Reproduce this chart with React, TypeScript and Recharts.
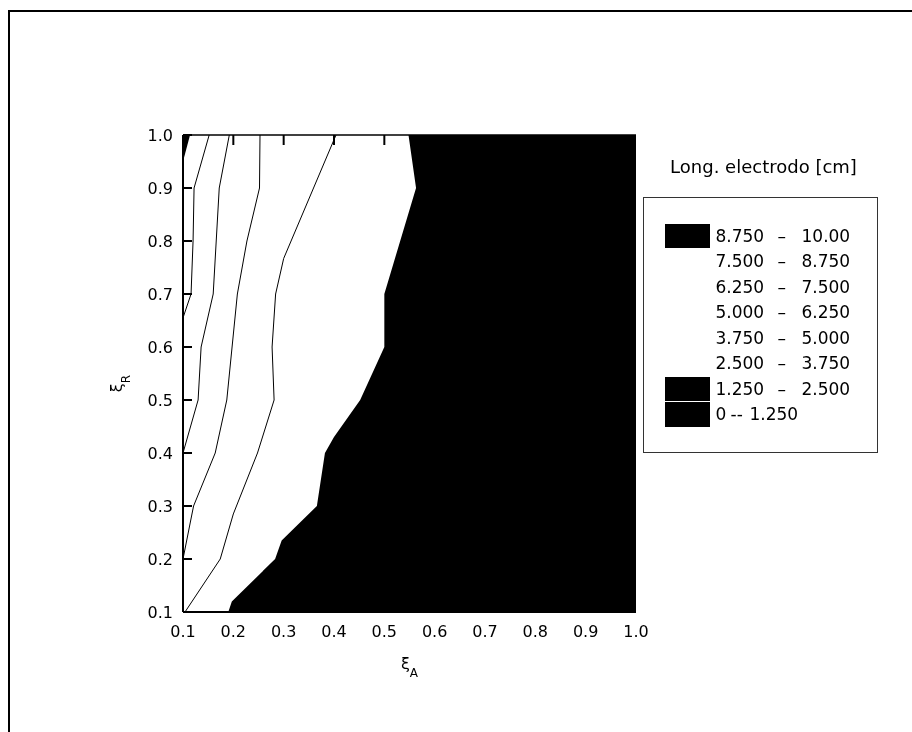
import React from 'react';
import { ComposedChart, Area, Line, XAxis, YAxis, Legend } from 'recharts';

// Axis ticks
const xTicks = [0.1, 0.2, 0.3, 0.4, 0.5, 0.6, 0.7, 0.8, 0.9, 1.0];
const yTicks = [0.1, 0.2, 0.3, 0.4, 0.5, 0.6, 0.7, 0.8, 0.9, 1.0];

// Axis titles
const xTitle = 'ξ';
const xTitleSub = 'A';
const yTitle = 'ξ';
const yTitleSub = 'R';

// Filled level regions (x = ξA, y = ξR)
// lowest levels (0 – 2.5) : small wedge at the top-left corner, closed against ξR = 1.0
const regionLow = [
  { x: 0.1, y: 0.95 },
  { x: 0.114, y: 1.0 },
];
// highest level (8.75 – 10) : right part, closed against ξR = 0.1
const regionHigh = [
  { x: 0.19, y: 0.1 },
  { x: 0.197, y: 0.12 },
  { x: 0.283, y: 0.2 },
  { x: 0.296, y: 0.235 },
  { x: 0.366, y: 0.3 },
  { x: 0.382, y: 0.4 },
  { x: 0.4, y: 0.43 },
  { x: 0.452, y: 0.5 },
  { x: 0.5, y: 0.6 },
  { x: 0.5, y: 0.7 },
  { x: 0.563, y: 0.9 },
  { x: 0.548, y: 1.0 },
  { x: 1.0, y: 1.0 },
  { x: 1.0, y: 0.1 },
];

// Contour lines
const contour375 = [
  { x: 0.152, y: 1.0 },
  { x: 0.122, y: 0.9 },
  { x: 0.12, y: 0.8 },
  { x: 0.116, y: 0.7 },
  { x: 0.1, y: 0.655 },
];
const contour500 = [
  { x: 0.192, y: 1.0 },
  { x: 0.172, y: 0.9 },
  { x: 0.16, y: 0.7 },
  { x: 0.136, y: 0.6 },
  { x: 0.13, y: 0.5 },
  { x: 0.1, y: 0.4 },
];
const contour625 = [
  { x: 0.253, y: 1.0 },
  { x: 0.252, y: 0.9 },
  { x: 0.227, y: 0.8 },
  { x: 0.208, y: 0.7 },
  { x: 0.187, y: 0.5 },
  { x: 0.164, y: 0.4 },
  { x: 0.121, y: 0.3 },
  { x: 0.1, y: 0.2 },
];
const contour750 = [
  { x: 0.404, y: 1.0 },
  { x: 0.3, y: 0.767 },
  { x: 0.284, y: 0.7 },
  { x: 0.277, y: 0.6 },
  { x: 0.281, y: 0.5 },
  { x: 0.248, y: 0.4 },
  { x: 0.2, y: 0.285 },
  { x: 0.174, y: 0.2 },
  { x: 0.104, y: 0.1 },
];

// Legend
const legendTitle = 'Long. electrodo [cm]';
const legendLow = ['8.750', '7.500', '6.250', '5.000', '3.750', '2.500', '1.250', '0'];
const legendHigh = ['10.00', '8.750', '7.500', '6.250', '5.000', '3.750', '2.500', '1.250'];
const legendSep = ['–', '–', '–', '–', '–', '–', '–', '--'];
const levelColors = ['#000', '#fff', '#fff', '#fff', '#fff', '#fff', '#000', '#000'];

const FONT = '"DejaVu Sans", sans-serif';

const fmt = (v: number) => Number(v).toFixed(1);

const YTick = (props: any) => {
  const { x, y, payload } = props;
  const ax = x + 10;
  return (
    <g>
      <line x1={ax} x2={ax + 9} y1={y} y2={y} stroke="#000" strokeWidth={2} />
      <text x={x} y={y} dy="0.36em" textAnchor="end" fontSize={16} fontFamily={FONT} fill="#000">
        {fmt(payload.value)}
      </text>
    </g>
  );
};

const XTick = (props: any) => {
  const { x, y, payload } = props;
  return (
    <text x={x} y={y} dy="0.71em" textAnchor="middle" fontSize={16} fontFamily={FONT} fill="#000">
      {fmt(payload.value)}
    </text>
  );
};

const TopTick = (props: any) => {
  const { x, y, payload } = props;
  const v = Number(payload?.value);
  if (v <= xTicks[0] || v >= xTicks[xTicks.length - 1]) return <g />;
  return <line x1={x} x2={x} y1={y} y2={y + 10} stroke="#000" strokeWidth={2} />;
};

const renderXTitle = (props: any) => {
  const vb = props.viewBox || { x: 175, y: 604, width: 453, height: 40 };
  const cx = vb.x + vb.width / 2;
  const by = vb.y + 57;
  return (
    <text x={cx} y={by} textAnchor="middle" fontFamily={FONT} fill="#000">
      <tspan fontSize={16}>{xTitle}</tspan>
      <tspan fontSize={12} dy={8}>{xTitleSub}</tspan>
    </text>
  );
};

const renderYTitle = (props: any) => {
  const vb = props.viewBox || { x: 115, y: 127, width: 60, height: 477 };
  const bx = vb.x - 1;
  const cy = vb.y + vb.height / 2 + 10;
  return (
    <text
      x={bx}
      y={cy}
      transform={`rotate(-90 ${bx} ${cy})`}
      textAnchor="middle"
      fontFamily={FONT}
      fill="#000"
    >
      <tspan fontSize={16}>{yTitle}</tspan>
      <tspan fontSize={12} dy={8}>{yTitleSub}</tspan>
    </text>
  );
};

const renderLegend = () => {
  const pitch = 25.55;
  return (
    <div style={{ position: 'relative', width: 235, height: 300, fontFamily: FONT, color: '#000' }}>
      <div
        style={{
          position: 'absolute',
          left: 3,
          top: 0,
          width: 235,
          textAlign: 'center',
          fontSize: 18,
          lineHeight: 'normal',
          whiteSpace: 'nowrap',
        }}
      >
        {legendTitle}
      </div>
      <div
        style={{
          position: 'absolute',
          left: 0,
          top: 41,
          width: 235,
          height: 256,
          boxSizing: 'border-box',
          border: '1.5px solid #333',
          background: '#fff',
        }}
      >
        {legendLow.map((low, i) => {
          const top = 25.5 + i * pitch;
          const short = legendSep[i] === '--';
          return (
            <div key={i}>
              <div
                style={{
                  position: 'absolute',
                  left: 20.5,
                  top,
                  width: 45,
                  height: 24.3,
                  background: levelColors[i],
                }}
              />
              {[
                { t: low, l: 71.5 },
                { t: legendSep[i], l: short ? 86.5 : 133.5 },
                { t: legendHigh[i], l: short ? 105.5 : 157.5 },
              ].map((s, j) => (
                <span
                  key={j}
                  style={{
                    position: 'absolute',
                    left: s.l,
                    top,
                    height: 24.3,
                    lineHeight: '24.3px',
                    fontSize: 17,
                    whiteSpace: 'pre',
                  }}
                >
                  {s.t}
                </span>
              ))}
            </div>
          );
        })}
      </div>
    </div>
  );
};

export default function App() {
  return (
    <div style={{ position: 'relative', width: 896, height: 716 }}>
      <div
        style={{
          position: 'fixed',
          left: 8,
          top: 10,
          width: 904,
          height: 722,
          borderLeft: '2px solid #000',
          borderTop: '2px solid #000',
          pointerEvents: 'none',
        }}
      />
      <ComposedChart
        width={896}
        height={716}
        margin={{ top: 117, right: 268, bottom: 72, left: 115 }}
        style={{ fontFamily: FONT }}
      >
        <XAxis
          dataKey="x"
          type="number"
          domain={[0.1, 1.0]}
          ticks={xTicks}
          allowDataOverflow
          height={40}
          tickSize={0}
          tickMargin={14}
          tickLine={false}
          axisLine={{ stroke: '#000', strokeWidth: 2 }}
          tick={<XTick />}
          interval={0}
          label={renderXTitle}
        />
        <XAxis
          xAxisId="top"
          orientation="top"
          dataKey="x"
          type="number"
          domain={[0.1, 1.0]}
          ticks={xTicks}
          allowDataOverflow
          height={10}
          tickSize={0}
          tickMargin={0}
          tickLine={false}
          axisLine={{ stroke: '#000', strokeWidth: 1.5 }}
          tick={<TopTick />}
          interval={0}
        />
        <YAxis
          type="number"
          domain={[0.1, 1.0]}
          ticks={yTicks}
          allowDataOverflow
          width={60}
          tickSize={0}
          tickMargin={10}
          tickLine={false}
          axisLine={{ stroke: '#000', strokeWidth: 2 }}
          tick={<YTick />}
          interval={0}
          label={renderYTitle}
        />
        <Area
          data={regionHigh}
          dataKey="y"
          type="linear"
          baseValue={0.1}
          fill="#000"
          fillOpacity={1}
          stroke="none"
          dot={false}
          activeDot={false}
          legendType="none"
          isAnimationActive={false}
        />
        <Area
          data={regionLow}
          dataKey="y"
          type="linear"
          baseValue={1.0}
          fill="#000"
          fillOpacity={1}
          stroke="none"
          dot={false}
          activeDot={false}
          legendType="none"
          isAnimationActive={false}
        />
        {[contour375, contour500, contour625, contour750].map((c, i) => (
          <Line
            key={i}
            data={c}
            dataKey="y"
            type="linear"
            stroke="#000"
            strokeWidth={1}
            dot={false}
            activeDot={false}
            legendType="none"
            isAnimationActive={false}
          />
        ))}
        <Legend
          layout="vertical"
          align="center"
          verticalAlign="middle"
          wrapperStyle={{ left: 635, top: 148, width: 240, height: 300 }}
          content={renderLegend}
        />
      </ComposedChart>
    </div>
  );
}
